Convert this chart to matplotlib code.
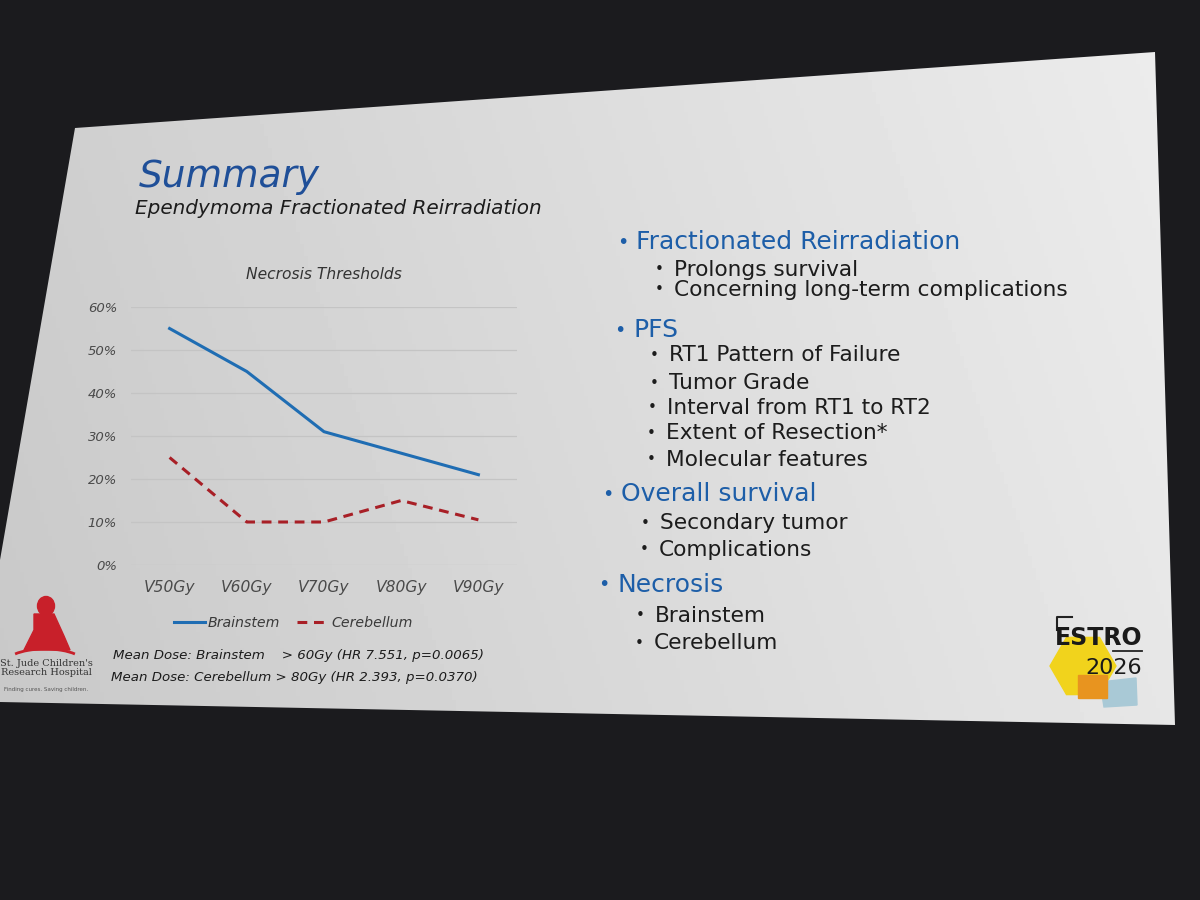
import matplotlib
matplotlib.use("Agg")
import matplotlib.pyplot as plt
import numpy as np
from matplotlib.patches import Polygon, Ellipse, Rectangle, RegularPolygon, Arc
from matplotlib.ticker import PercentFormatter

# chart data
doses = ["V50Gy", "V60Gy", "V70Gy", "V80Gy", "V90Gy"]
brainstem = [0.55, 0.45, 0.31, 0.26, 0.21]
cerebellum = [0.25, 0.10, 0.10, 0.15, 0.105]

title = "Summary"
subtitle = "Ependymoma Fractionated Reirradiation"
chart_title = "Necrosis Thresholds"
footnotes = ["Mean Dose: Brainstem    > 60Gy (HR 7.551, p=0.0065)",
             "Mean Dose: Cerebellum > 80Gy (HR 2.393, p=0.0370)"]

# (level, text) bullets on the right side
bullets = [
    (0, "Fractionated Reirradiation"),
    (1, "Prolongs survival"),
    (1, "Concerning long-term complications"),
    (0, "PFS"),
    (1, "RT1 Pattern of Failure"),
    (1, "Tumor Grade"),
    (1, "Interval from RT1 to RT2"),
    (1, "Extent of Resection*"),
    (1, "Molecular features"),
    (0, "Overall survival"),
    (1, "Secondary tumor"),
    (1, "Complications"),
    (0, "Necrosis"),
    (1, "Brainstem"),
    (1, "Cerebellum"),
]
bullet_y = [242, 270, 290, 330, 355, 383, 408, 433, 460, 494, 523, 550, 585, 616, 643]
bullet_x = [617, 655, 655, 614, 650, 650, 648, 647, 647, 602, 641, 640, 598, 636, 635]

plt.rcParams['font.family'] = ['DejaVu Sans']

BLUE_TXT = "#1d5ea8"
DARK_TXT = "#1c1c1c"

fig = plt.figure(figsize=(12, 9), dpi=100, facecolor="#1b1b1e")

# whole-figure axes in pixel coordinates for the slide itself
bg = fig.add_axes([0, 0, 1, 1])
bg.set_xlim(0, 1200)
bg.set_ylim(900, 0)
bg.axis("off")

slide = Polygon([(75, 128), (1155, 52), (1175, 725), (0, 702), (0, 560)],
                closed=True, facecolor="none", edgecolor="none")
bg.add_patch(slide)
xx, yy = np.meshgrid(np.linspace(0, 1, 300), np.linspace(0, 1, 225))
shade = 0.81 + 0.12 * xx - 0.03 * yy
im = bg.imshow(shade, cmap="gray", vmin=0, vmax=1, extent=[0, 1200, 900, 0],
               aspect="auto", zorder=0)
im.set_clip_path(slide)

# title
bg.text(139, 177, title, fontsize=27, style="italic", color="#1f4f98", va="center", ha="left")
bg.text(135, 208, subtitle, fontsize=14.4, style="italic", color=DARK_TXT, va="center", ha="left")

# bullets
for (lvl, txt), x, y in zip(bullets, bullet_x, bullet_y):
    if lvl == 0:
        bg.text(x, y, "•", fontsize=14, color=BLUE_TXT, va="center", ha="left")
        bg.text(x + 19, y, txt, fontsize=18, color=BLUE_TXT, va="center", ha="left")
    else:
        bg.text(x, y, "•", fontsize=11, color=DARK_TXT, va="center", ha="left")
        bg.text(x + 19, y, txt, fontsize=15.6, color=DARK_TXT, va="center", ha="left")

# footnotes
bg.text(113, 655, footnotes[0], fontsize=9.6, style="italic", color=DARK_TXT, va="center")
bg.text(111, 677, footnotes[1], fontsize=9.6, style="italic", color=DARK_TXT, va="center")

# St. Jude logo (simplified)
red = "#c8202a"
bg.add_patch(Arc((45, 662), 76, 26, theta1=195, theta2=345, color=red, lw=2))
bg.add_patch(Ellipse((46, 606), 17, 19, color=red))
bg.add_patch(Polygon([(34, 614), (54, 614), (64, 636), (70, 650), (24, 650), (34, 630)],
                     closed=True, color=red))
bg.text(46, 668, "St. Jude Children's\nResearch Hospital", family="DejaVu Serif",
        fontsize=7, color="#333333", ha="center", va="center", linespacing=1.0)
bg.text(46, 690, "Finding cures. Saving children.", fontsize=4, color="#555555",
        ha="center", va="center")

# ESTRO 2026 logo (simplified)
bg.add_patch(RegularPolygon((1083, 666), 6, radius=33, orientation=np.pi / 6,
                            color="#f1d31c", zorder=1))
bg.add_patch(Polygon([(1100, 682), (1136, 678), (1137, 705), (1104, 707)], closed=True,
                     color="#a9c9d6", zorder=1))
bg.add_patch(Rectangle((1078, 675), 29, 23, color="#e8941f", zorder=2))
bg.plot([1057, 1057, 1072], [630, 617, 617], color="#222222", lw=1.5, zorder=3)
bg.text(1099, 638, "ESTRO", fontsize=17, fontweight="bold", color="#1a1a1a",
        ha="center", va="center", zorder=3)
bg.plot([1113, 1142], [651, 651], color="#222222", lw=1.3, zorder=3)
bg.text(1114, 668, "2026", fontsize=16, color="#1a1a1a", ha="center", va="center", zorder=3)

# the chart itself
ax = fig.add_axes([131 / 1200, 1 - 565 / 900, 386 / 1200, 258 / 900])
ax.set_facecolor("none")
x = np.arange(len(doses))
ax.plot(x, brainstem, color="#1f6db3", lw=2.2, label="Brainstem", solid_joinstyle="round")
ax.plot(x, cerebellum, color="#a81f26", lw=2.2, ls=(0, (3.2, 2.2)), label="Cerebellum")
ax.set_xlim(-0.5, len(doses) - 0.5)
ax.set_ylim(0, 0.6)
ax.set_yticks(np.arange(0, 0.61, 0.1))
ax.yaxis.set_major_formatter(PercentFormatter(1.0, decimals=0))
ax.set_xticks(x)
ax.set_xticklabels(doses)
ax.grid(axis="y", color="#c4c4c4", lw=0.9)
ax.set_axisbelow(True)
for s in ax.spines.values():
    s.set_visible(False)
ax.tick_params(axis="y", length=0, labelsize=9.5, labelcolor="#4a4a4a", pad=10)
ax.tick_params(axis="x", length=0, labelsize=11.2, labelcolor="#4a4a4a", pad=11)
for lab in ax.get_xticklabels() + ax.get_yticklabels():
    lab.set_style("italic")
ax.set_title(chart_title, fontsize=11.2, style="italic", color="#333333", pad=20)
leg = ax.legend(loc="upper center", bbox_to_anchor=(0.42, -0.15), ncol=2, frameon=False,
                handlelength=2.2, columnspacing=1.2, handletextpad=0.2,
                prop={"style": "italic", "size": 10.2})
for t in leg.get_texts():
    t.set_color("#3a3a3a")

fig.savefig("out.png", dpi=100, facecolor=fig.get_facecolor())
